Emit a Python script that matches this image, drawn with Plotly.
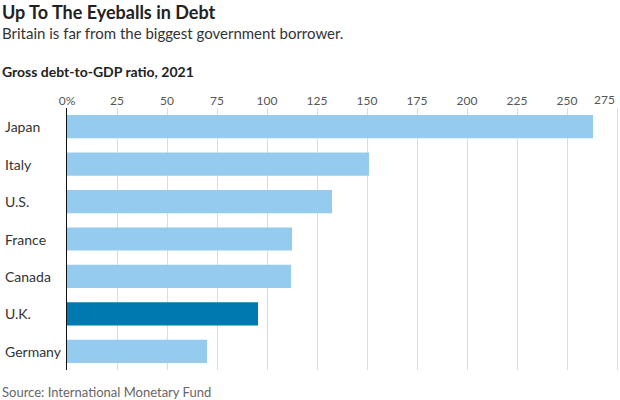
import plotly.graph_objects as go

countries = ["Japan", "Italy", "U.S.", "France", "Canada", "U.K.", "Germany"]
debt_ratio = [263, 151, 132.5, 112.5, 112, 95.5, 70]
highlight = "U.K."
tick_vals = [0, 25, 50, 75, 100, 125, 150, 175, 200, 225, 250, 275]
tick_text = ["0%", "25", "50", "75", "100", "125", "150", "175", "200", "225", "250", "275"]

LIGHT = "#95cbee"
DARK = "#0079b0"
colors = [DARK if c == highlight else LIGHT for c in countries]

FONT = "Lato"
TOP, BOTTOM = 108, 370
PH = BOTTOM - TOP
PW = 552

fig = go.Figure(go.Bar(
    x=debt_ratio, y=countries, orientation="h",
    marker=dict(color=colors, line=dict(width=0)),
    width=0.62, hoverinfo="skip",
))

fig.update_layout(
    width=620, height=400,
    margin=dict(l=67, r=620 - 67 - PW, t=TOP, b=400 - BOTTOM),
    plot_bgcolor="white", paper_bgcolor="white",
    showlegend=False,
    font=dict(family=FONT, color="#333"),
    xaxis=dict(
        side="top", range=[0, 276], tickvals=tick_vals,
        ticktext=tick_text[:-1] + [""],
        showgrid=True, gridcolor="#dcdcdc", gridwidth=1, zeroline=False,
        tickfont=dict(size=12, color="#555", family=FONT), ticks="",
        showline=False, fixedrange=True,
    ),
    yaxis=dict(
        categoryorder="array", categoryarray=countries, autorange="reversed",
        showticklabels=False, showgrid=False, zeroline=False,
        showline=True, linecolor="#111", linewidth=1, ticks="",
    ),
)

# last tick label, right-aligned so it stays inside the page
fig.add_annotation(x=tick_vals[-1], xref="x", y=(BOTTOM - 100) / PH, yref="paper",
                   text=tick_text[-1], showarrow=False, xanchor="right", yanchor="middle",
                   font=dict(size=12, color="#555", family=FONT))

for c in countries:
    fig.add_annotation(x=-64 / PW, xref="paper", y=c, yref="y", text=c,
                       showarrow=False, xanchor="left", yanchor="middle",
                       font=dict(size=14, color="#333", family=FONT))

texts = [
    dict(text="<b>Up To The Eyeballs in Debt</b>", y=12, size=18, color="#222"),
    dict(text="Britain is far from the biggest government borrower.", y=33, size=15, color="#333"),
    dict(text="<b>Gross debt-to-GDP ratio, 2021</b>", y=71, size=14, color="#222"),
    dict(text="Source: International Monetary Fund", y=392, size=13, color="#666"),
]
for a in texts:
    fig.add_annotation(x=0, xref="paper", xshift=-67, y=(BOTTOM - a["y"]) / PH,
                       yref="paper", text=a["text"], showarrow=False,
                       xanchor="left", yanchor="middle",
                       font=dict(size=a["size"], color=a["color"], family=FONT))

fig.write_html("out.html")
